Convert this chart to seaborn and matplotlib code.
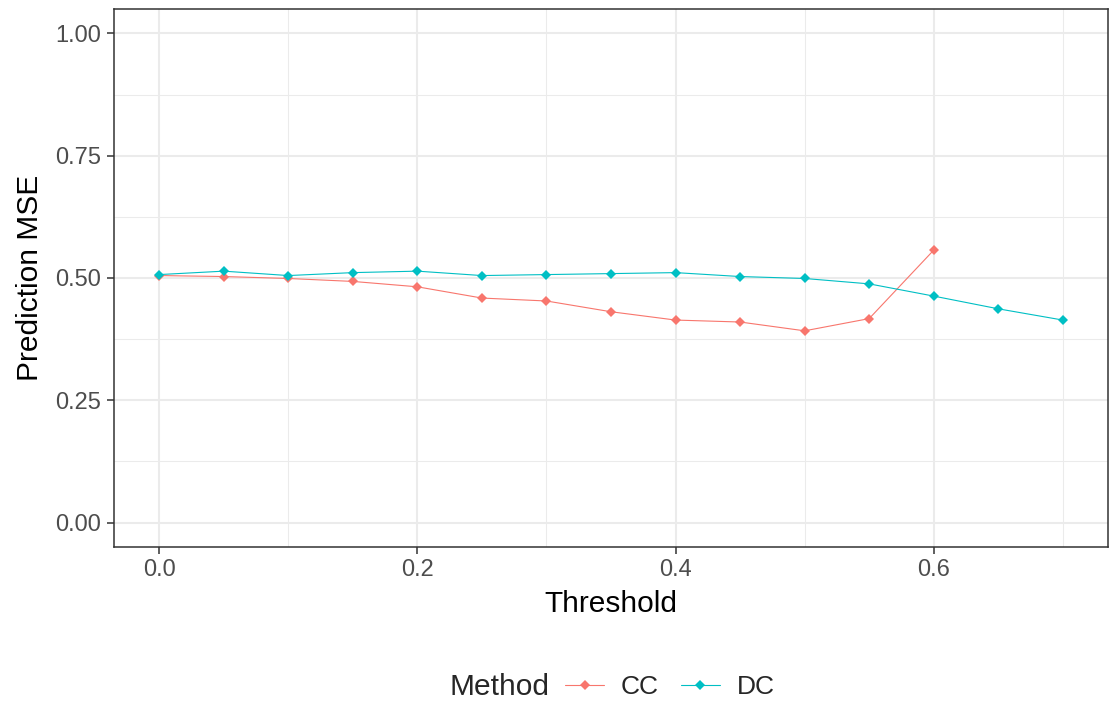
import matplotlib
matplotlib.use("Agg")
import matplotlib.pyplot as plt
from matplotlib.lines import Line2D
import seaborn as sns
import pandas as pd

threshold_cc = [0.0, 0.05, 0.1, 0.15, 0.2, 0.25, 0.3, 0.35, 0.4, 0.45, 0.5, 0.55, 0.6]
mse_cc = [0.505, 0.503, 0.499, 0.493, 0.482, 0.459, 0.453, 0.431, 0.414, 0.410, 0.392, 0.417, 0.557]
threshold_dc = [0.0, 0.05, 0.1, 0.15, 0.2, 0.25, 0.3, 0.35, 0.4, 0.45, 0.5, 0.55, 0.6, 0.65, 0.7]
mse_dc = [0.507, 0.514, 0.505, 0.511, 0.514, 0.505, 0.507, 0.509, 0.511, 0.503, 0.499, 0.488, 0.463, 0.437, 0.414]
methods = ["CC", "DC"]
colors = {"CC": "#F8766D", "DC": "#00BFC4"}

df = pd.concat([
    pd.DataFrame({"Threshold": threshold_cc, "MSE": mse_cc, "Method": "CC"}),
    pd.DataFrame({"Threshold": threshold_dc, "MSE": mse_dc, "Method": "DC"}),
])

sns.set_style("white")
plt.rcParams["font.family"] = ["Liberation Sans", "DejaVu Sans"]

W, H = 1109, 705
fig = plt.figure(figsize=(W / 100, H / 100), dpi=100)
ax = fig.add_axes([114 / W, 1 - 547 / H, (1108 - 114) / W, (547 - 9) / H])

sns.lineplot(data=df, x="Threshold", y="MSE", hue="Method", hue_order=methods,
             palette=colors, marker="D", markersize=5.6, markeredgewidth=0,
             linewidth=0.8, legend=False, ax=ax, zorder=3)

ax.set_xlim(-0.035, 0.735)
ax.set_ylim(-0.05, 1.05)
ax.set_xticks([0.0, 0.2, 0.4, 0.6])
ax.set_xticklabels(["0.0", "0.2", "0.4", "0.6"])
ax.set_xticks([0.1, 0.3, 0.5, 0.7], minor=True)
ax.set_yticks([0.0, 0.25, 0.5, 0.75, 1.0])
ax.set_yticklabels(["0.00", "0.25", "0.50", "0.75", "1.00"])
ax.set_yticks([0.125, 0.375, 0.625, 0.875], minor=True)

ax.grid(which="major", color="#EBEBEB", linewidth=1.5, zorder=0)
ax.grid(which="minor", color="#EBEBEB", linewidth=0.75, zorder=0)
ax.set_axisbelow(True)
for s in ax.spines.values():
    s.set_color("#333333")
    s.set_linewidth(1.1)

ax.tick_params(which="major", length=5, width=1.1, color="#333333",
               labelsize=17, labelcolor="#4D4D4D", pad=4,
               bottom=True, left=True)
ax.tick_params(which="minor", length=0)

ax.set_xlabel("Threshold", fontsize=21.5, color="black", labelpad=6)
ax.set_ylabel("Prediction MSE", fontsize=21.5, color="black", labelpad=8)

# legend at bottom
fig.text(500 / W, 1 - 687 / H, "Method", fontsize=21.5, ha="center", va="center")
handles = [Line2D([], [], color=colors[m], marker="D", markersize=5.6,
                  markeredgewidth=0, linewidth=0.8) for m in methods]
fig.legend(handles, methods, loc="center left", bbox_to_anchor=(565 / W, 1 - 687 / H),
           ncol=2, frameon=False, fontsize=19, handlelength=1.48,
           handletextpad=0.64, columnspacing=0.83, borderpad=0, borderaxespad=0)

fig.savefig("out.png", dpi=100)
